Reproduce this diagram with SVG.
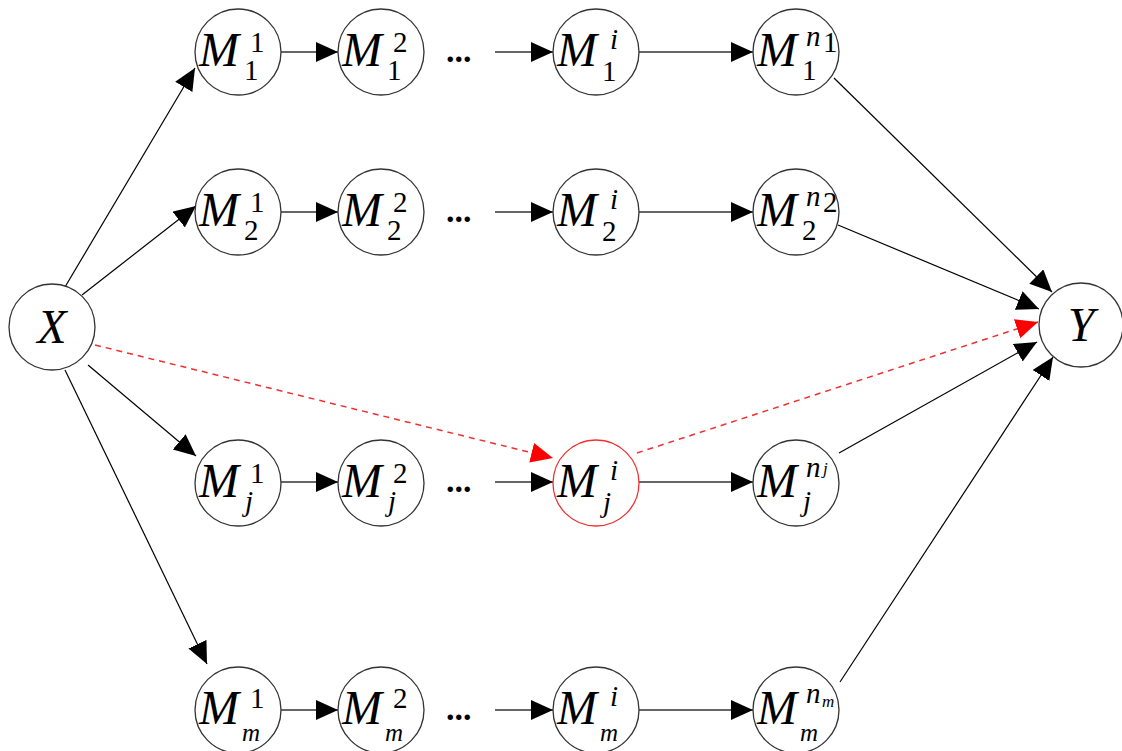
<svg xmlns="http://www.w3.org/2000/svg" width="1122" height="751" viewBox="0 0 1122 751">
<style>
.n{fill:#fff;stroke:#333;stroke-width:1.3}
.r{fill:#fff;stroke:#f03030;stroke-width:1.3}
text{font-family:'Liberation Serif','DejaVu Serif',serif;fill:#000}
.m{font-style:italic;font-size:48px}
.s{font-size:29px}
.si{font-style:italic;font-size:29px}
.sm{font-style:italic;font-size:25px}
.ss{font-style:italic;font-size:17px}
.d{font-weight:bold;font-size:34px}
.c{stroke:#000;stroke-width:1.2;fill:none}
.h{stroke:#333;stroke-width:1.6;fill:none}
.rd{stroke:#f03030;stroke-width:1.5;stroke-dasharray:6 5;fill:none}
</style>
<defs>
<marker id="a" markerUnits="userSpaceOnUse" markerWidth="24" markerHeight="22" refX="22" refY="10" orient="auto"><path d="M0,0 L22,10 L0,20 z" fill="#000"/></marker>
<marker id="ar" markerUnits="userSpaceOnUse" markerWidth="24" markerHeight="22" refX="22" refY="10" orient="auto"><path d="M0,0 L22,10 L0,20 z" fill="#f00"/></marker>
</defs>
<g id="connectors">
<line class="c" x1="65" y1="287" x2="195" y2="68" marker-end="url(#a)"/>
<line class="c" x1="82" y1="295" x2="196" y2="206" marker-end="url(#a)"/>
<line class="c" x1="88" y1="365" x2="196" y2="456" marker-end="url(#a)"/>
<line class="c" x1="65" y1="370" x2="207" y2="664" marker-end="url(#a)"/>
<line class="rd" x1="95" y1="345" x2="553" y2="458" marker-end="url(#ar)"/>
<line class="rd" x1="637" y1="453" x2="1038" y2="322" marker-end="url(#ar)"/>
<line class="c" x1="834" y1="78" x2="1052" y2="292" marker-end="url(#a)"/>
<line class="c" x1="838" y1="225" x2="1039" y2="309" marker-end="url(#a)"/>
<line class="c" x1="839" y1="453" x2="1037" y2="342" marker-end="url(#a)"/>
<line class="c" x1="840" y1="682" x2="1053" y2="357" marker-end="url(#a)"/>
<line class="h" x1="281" y1="52" x2="338" y2="52" marker-end="url(#a)"/>
<line class="h" x1="495" y1="52" x2="553" y2="52" marker-end="url(#a)"/>
<line class="h" x1="639" y1="52" x2="753" y2="52" marker-end="url(#a)"/>
<line class="h" x1="281" y1="212" x2="338" y2="212" marker-end="url(#a)"/>
<line class="h" x1="495" y1="212" x2="553" y2="212" marker-end="url(#a)"/>
<line class="h" x1="639" y1="212" x2="753" y2="212" marker-end="url(#a)"/>
<line class="h" x1="281" y1="482" x2="338" y2="482" marker-end="url(#a)"/>
<line class="h" x1="495" y1="482" x2="553" y2="482" marker-end="url(#a)"/>
<line class="h" x1="639" y1="482" x2="753" y2="482" marker-end="url(#a)"/>
<line class="h" x1="281" y1="710" x2="338" y2="710" marker-end="url(#a)"/>
<line class="h" x1="495" y1="710" x2="553" y2="710" marker-end="url(#a)"/>
<line class="h" x1="639" y1="710" x2="753" y2="710" marker-end="url(#a)"/>
</g>
<g id="dots">
<text class="d" x="446" y="62">...</text>
<text class="d" x="446" y="222">...</text>
<text class="d" x="446" y="492">...</text>
<text class="d" x="446" y="720">...</text>
</g>
<g id="X"><circle class="n" cx="52" cy="327" r="43"/><text class="m" x="52" y="343" text-anchor="middle">X</text></g>
<g id="Y"><circle class="n" cx="1081" cy="325" r="42"/><text class="m" x="1081" y="341" text-anchor="middle">Y</text></g>

<g id="M11"><circle class="n" cx="238" cy="52" r="43"/><text class="m" x="199" y="66">M</text><text class="s" x="250" y="52">1</text><text class="s" x="244" y="80">1</text></g>
<g id="M12"><circle class="n" cx="381" cy="52" r="43"/><text class="m" x="342" y="66">M</text><text class="s" x="393" y="52">2</text><text class="s" x="387" y="80">1</text></g>
<g id="M1i"><circle class="n" cx="596" cy="52" r="43"/><text class="m" x="557" y="66">M</text><text class="si" x="610" y="49">i</text><text class="s" x="602" y="81">1</text></g>
<g id="M1n"><circle class="n" cx="796" cy="52" r="43"/><text class="m" x="757" y="66">M</text><text class="si" x="806" y="46">n</text><text class="s" x="823" y="52" font-size="17">1</text><text class="s" x="802" y="80">1</text></g>

<g id="M21"><circle class="n" cx="238" cy="212" r="43"/><text class="m" x="199" y="226">M</text><text class="s" x="250" y="212">1</text><text class="s" x="244" y="240">2</text></g>
<g id="M22"><circle class="n" cx="381" cy="212" r="43"/><text class="m" x="342" y="226">M</text><text class="s" x="393" y="212">2</text><text class="s" x="387" y="240">2</text></g>
<g id="M2i"><circle class="n" cx="596" cy="212" r="43"/><text class="m" x="557" y="226">M</text><text class="si" x="610" y="209">i</text><text class="s" x="602" y="241">2</text></g>
<g id="M2n"><circle class="n" cx="796" cy="212" r="43"/><text class="m" x="757" y="226">M</text><text class="si" x="806" y="206">n</text><text class="s" x="823" y="212" font-size="17">2</text><text class="s" x="802" y="240">2</text></g>

<g id="Mj1"><circle class="n" cx="238" cy="483" r="43"/><text class="m" x="199" y="497">M</text><text class="s" x="250" y="483">1</text><text class="si" x="245" y="511">j</text></g>
<g id="Mj2"><circle class="n" cx="381" cy="483" r="43"/><text class="m" x="342" y="497">M</text><text class="s" x="393" y="483">2</text><text class="si" x="388" y="511">j</text></g>
<g id="Mji"><circle class="r" cx="596" cy="483" r="43"/><text class="m" x="557" y="497">M</text><text class="si" x="610" y="480">i</text><text class="si" x="603" y="512">j</text></g>
<g id="Mjn"><circle class="n" cx="796" cy="483" r="43"/><text class="m" x="757" y="497">M</text><text class="si" x="806" y="477">n</text><text class="ss" x="823" y="474">j</text><text class="si" x="803" y="511">j</text></g>

<g id="Mm1"><circle class="n" cx="238" cy="710" r="43"/><text class="m" x="199" y="724">M</text><text class="s" x="250" y="708">1</text><text class="sm" x="242" y="741">m</text></g>
<g id="Mm2"><circle class="n" cx="381" cy="710" r="43"/><text class="m" x="342" y="724">M</text><text class="s" x="393" y="708">2</text><text class="sm" x="385" y="741">m</text></g>
<g id="Mmi"><circle class="n" cx="596" cy="710" r="43"/><text class="m" x="557" y="724">M</text><text class="si" x="610" y="706">i</text><text class="sm" x="600" y="741">m</text></g>
<g id="Mmn"><circle class="n" cx="796" cy="710" r="43"/><text class="m" x="757" y="724">M</text><text class="si" x="806" y="703">n</text><text class="ss" x="822" y="707">m</text><text class="sm" x="800" y="741">m</text></g>
</svg>
